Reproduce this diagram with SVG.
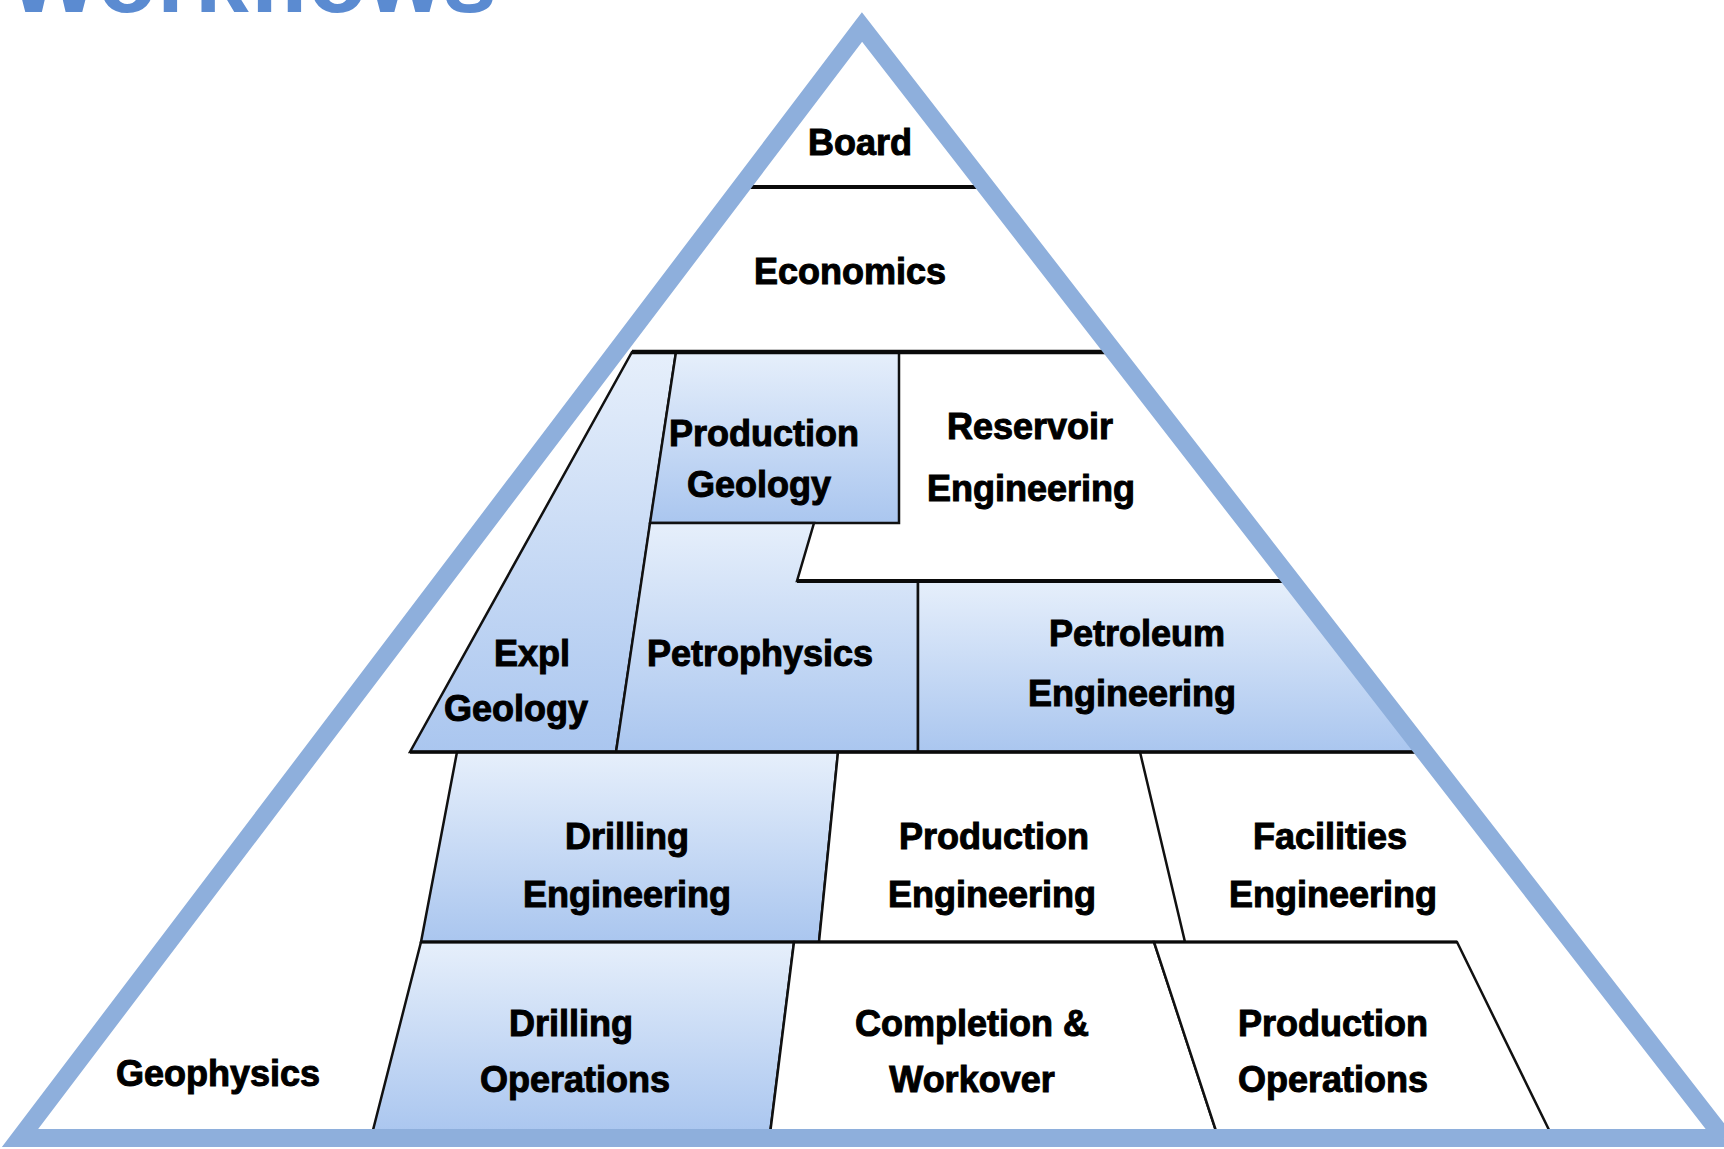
<svg xmlns="http://www.w3.org/2000/svg" width="1724" height="1149" viewBox="0 0 1724 1149">
  <defs>
    <linearGradient id="blueFill" x1="0" y1="0" x2="0" y2="1">
      <stop offset="0" stop-color="#e6effb"/>
      <stop offset="1" stop-color="#aac6ef"/>
    </linearGradient>
    <style>
      .lbl { font-family: "Liberation Sans", Arial, sans-serif; font-weight: bold; font-size: 36px; fill: #000; stroke: #000; stroke-width: 1; text-anchor: middle; }
      .blue { fill: url(#blueFill); stroke: #111; stroke-width: 2.5; stroke-linejoin: miter; }
      .white { fill: #fff; stroke: none; }
      .wbox { fill: #fff; stroke: #111; stroke-width: 2.5; stroke-linejoin: miter; }
      .sep { stroke: #0a0a0a; fill: none; }
      .title { font-family: "Liberation Sans", Arial, sans-serif; font-weight: bold; font-size: 97px; fill: #5b8bd1; }
    </style>
  </defs>

  <rect width="1724" height="1149" fill="#fff"/>

  <text class="title" x="8" y="12">Workflows</text>

  <!-- pyramid background -->
  <polygon points="862,27 20,1138 1724,1138" fill="#fff"/>

  <g id="board">
    <text class="lbl" x="860" y="155">Board</text>
  </g>

  <g id="economics">
    <text class="lbl" x="850" y="284">Economics</text>
  </g>

  <g id="reservoir-engineering">
    <polygon class="white" points="899,352 1113,352 1292,581 797,581 814,523 899,523"/>
    <text class="lbl" x="1030" y="439">Reservoir</text>
    <text class="lbl" x="1031" y="501">Engineering</text>
  </g>

  <g id="expl-geology">
    <polygon class="blue" points="632,352 676,352 616,752 410,752"/>
    <text class="lbl" x="532" y="666">Expl</text>
    <text class="lbl" x="516" y="721">Geology</text>
  </g>

  <g id="production-geology">
    <polygon class="blue" points="676,352 899,352 899,523 650,523"/>
    <text class="lbl" x="764" y="446">Production</text>
    <text class="lbl" x="759" y="497">Geology</text>
  </g>

  <g id="petrophysics">
    <polygon class="blue" points="650,523 814,523 797,581 918,581 918,752 616,752"/>
    <text class="lbl" x="760" y="666">Petrophysics</text>
  </g>

  <g id="petroleum-engineering">
    <polygon class="blue" points="918,581 1292,581 1425,752 918,752"/>
    <text class="lbl" x="1137" y="646">Petroleum</text>
    <text class="lbl" x="1132" y="706">Engineering</text>
  </g>

  <g id="drilling-engineering">
    <polygon class="blue" points="457,752 838,752 819,942 421,942"/>
    <text class="lbl" x="627" y="849">Drilling</text>
    <text class="lbl" x="627" y="907">Engineering</text>
  </g>

  <g id="production-engineering">
    <polygon class="wbox" points="838,752 1140,752 1185,942 819,942"/>
    <text class="lbl" x="994" y="849">Production</text>
    <text class="lbl" x="992" y="907">Engineering</text>
  </g>

  <g id="facilities-engineering">
    <text class="lbl" x="1330" y="849">Facilities</text>
    <text class="lbl" x="1333" y="907">Engineering</text>
  </g>

  <g id="drilling-operations">
    <polygon class="blue" points="421,942 794,942 770,1134 372,1134"/>
    <text class="lbl" x="571" y="1036">Drilling</text>
    <text class="lbl" x="575" y="1092">Operations</text>
  </g>

  <g id="completion-workover">
    <polygon class="wbox" points="794,942 1154,942 1217,1134 770,1134"/>
    <text class="lbl" x="972" y="1036">Completion &amp;</text>
    <text class="lbl" x="972" y="1092">Workover</text>
  </g>

  <g id="production-operations">
    <polygon class="wbox" points="1154,942 1457,942 1551,1134 1217,1134"/>
    <text class="lbl" x="1333" y="1036">Production</text>
    <text class="lbl" x="1333" y="1092">Operations</text>
  </g>

  <g id="geophysics">
    <text class="lbl" x="218" y="1086">Geophysics</text>
  </g>

  <g id="connectors">
    <line class="sep" x1="748" y1="187" x2="978" y2="187" stroke-width="4"/>
    <line class="sep" x1="632" y1="352" x2="1105" y2="352" stroke-width="4.5"/>
    <line class="sep" x1="797" y1="581" x2="1285" y2="581" stroke-width="4"/>
    <line class="sep" x1="410" y1="752" x2="1418" y2="752" stroke-width="3.5"/>
    <line class="sep" x1="421" y1="942" x2="1457" y2="942" stroke-width="3"/>
  </g>

  <g id="pyramid-outline">
    <polygon points="862,27 20,1138 1724,1138" fill="none" stroke="#8eafdc" stroke-width="18" stroke-linejoin="miter"/>
  </g>
</svg>
